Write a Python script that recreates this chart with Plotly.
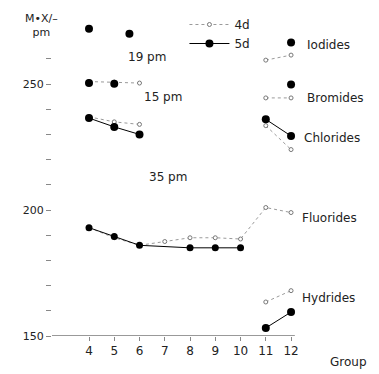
import plotly.graph_objects as go

# ---- data (pm) ----
groups_left = [4, 5, 6]
groups_right = [11, 12]

iod_5d_x = [4, 5.6]
iod_5d = [272, 270]
iod_right_4d = [259.5, 261.5]
iod_right_5d_x = [12]
iod_right_5d = [266.5]

bro_4d = [251, 250.8, 250.4]
bro_5d_x = [4, 5]
bro_5d = [250.4, 250.1]
bro_right_4d = [244.5, 244.5]
bro_right_5d_x = [12]
bro_right_5d = [249.8]

chl_4d = [237, 235, 234]
chl_5d = [236.5, 233, 230]
chl_right_4d = [233.5, 224]
chl_right_5d = [236, 229.4]

flu_4d_x = [4, 5, 6, 7, 8, 9, 10, 11, 12]
flu_4d = [193, 189, 186, 187.5, 189, 189, 188.5, 201, 199]
flu_5d_x = [4, 5, 6, 8, 9, 10]
flu_5d = [193, 189.5, 186, 185, 185, 185]

hyd_right_4d = [163.5, 168]
hyd_right_5d = [153.2, 159.5]

diff_labels = ["19 pm", "15 pm", "35 pm"]
series_labels = ["Iodides", "Bromides", "Chlorides", "Fluorides", "Hydrides"]
x_ticks = [4, 5, 6, 7, 8, 9, 10, 11, 12]
y_ticks = [150, 160, 170, 180, 190, 200, 210, 220, 230, 240, 250, 260]
y_ticktext = ["150", "", "", "", "", "200", "", "", "", "", "250", ""]

DOT = dict(color="#9a9a9a", width=1, dash="dot")
SOL = dict(color="black", width=1)

fig = go.Figure()

def add4(x, y, show=False):
    fig.add_trace(go.Scatter(x=x, y=y, mode="lines+markers", line=DOT,
                             marker=dict(size=4, color="white", line=dict(color="#777", width=1)),
                             name="4d", showlegend=show))

def add5(x, y, show=False, mode="lines+markers", size=8):
    fig.add_trace(go.Scatter(x=x, y=y, mode=mode, line=SOL,
                             marker=dict(size=size, color="black"),
                             name="5d", showlegend=show))

add4(groups_right, iod_right_4d, show=True)
add5(iod_5d_x, iod_5d, mode="markers")
add5(iod_right_5d_x, iod_right_5d, mode="markers")

add4(groups_left, bro_4d)
add5(bro_5d_x, bro_5d, mode="markers")
add4(groups_right, bro_right_4d)
add5(bro_right_5d_x, bro_right_5d, mode="markers")

add4(groups_left, chl_4d)
add5(groups_left, chl_5d, show=True)
add4(groups_right, chl_right_4d)
add5(groups_right, chl_right_5d)

add4(flu_4d_x, flu_4d)
add5(flu_5d_x, flu_5d, size=7)

add4(groups_right, hyd_right_4d)
add5(groups_right, hyd_right_5d)

FONT = dict(family="DejaVu Sans", size=12, color="#222")

# series labels right of group 12
label_pos = [(12.55, 265.5), (12.55, 244.5), (12.43, 228.6), (12.36, 196.8), (12.36, 165)]
for t, (xv, yv) in zip(series_labels, label_pos):
    fig.add_annotation(x=xv, y=yv, text=t, showarrow=False, xanchor="left",
                       font=FONT)

# difference labels
diff_pos = [(5.45, 260.7), (6.1, 244.8), (6.3, 213)]
for t, (xv, yv) in zip(diff_labels, diff_pos):
    fig.add_annotation(x=xv, y=yv, text=t, showarrow=False, xanchor="left", font=FONT)

# y axis title
fig.add_annotation(xref="paper", yref="paper", x=-0.095, y=1.0, xanchor="left", yanchor="top",
                   text="M•X/–<br>pm", showarrow=False, align="center",
                   font=dict(family="DejaVu Sans", size=11, color="#222"))

# x axis title
fig.add_annotation(xref="x", yref="paper", x=13.45, y=-0.08, yanchor="middle", xanchor="left",
                   text="Group", showarrow=False, font=FONT)

# base line at 150
fig.add_shape(type="line", x0=2.53, x1=12.15, y0=150, y1=150,
              line=dict(color="#999", width=2))

fig.update_layout(
    width=371, height=366,
    margin=dict(l=44, r=19, t=2, b=38),
    paper_bgcolor="white", plot_bgcolor="white",
    font=FONT,
    legend=dict(x=0.43, y=1.0, xanchor="left", yanchor="top", bgcolor="rgba(0,0,0,0)",
                font=dict(family="DejaVu Sans", size=12, color="#222"),
                tracegroupgap=0, itemwidth=40),
    xaxis=dict(range=[2.535, 14.73], showgrid=False, zeroline=False, showline=False,
               automargin=False,
               tickvals=x_ticks, ticktext=[str(v) for v in x_ticks],
               ticks="outside", ticklen=4, tickcolor="#888",
               tickfont=dict(family="DejaVu Sans", size=12, color="#222")),
    yaxis=dict(range=[150, 279.4], showgrid=False, zeroline=False, showline=False,
               automargin=False,
               tickvals=y_ticks, ticktext=y_ticktext,
               ticks="outside", ticklen=5, tickcolor="#888",
               tickfont=dict(family="DejaVu Sans", size=11, color="#222")),
)

fig.write_html("out.html")
